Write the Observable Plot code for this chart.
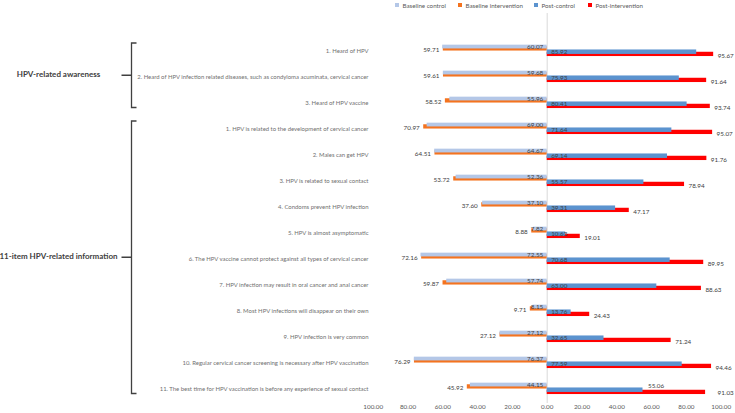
<!DOCTYPE html>
<html><head><meta charset="utf-8">
<script src="https://cdn.jsdelivr.net/npm/d3@7"></script>
<script src="https://cdn.jsdelivr.net/npm/@observablehq/plot@0.6"></script>
<style>
body{margin:0;background:#fff;font-family:Lato,"Liberation Sans",sans-serif;}
#legend{height:13px;position:relative;width:735px;font-size:6.2px;color:#595959;}
.item{position:absolute;top:1px;height:8px;display:flex;align-items:center;white-space:nowrap}
.sw{width:3.5px;height:3.5px;margin-right:4px;display:inline-block}
</style></head><body>
<div id="legend"></div>
<div id="chart"></div>
<script>
const items = [
  "1. Heard of HPV",
  "2. Heard of HPV infection related diseases, such as condyloma acuminata, cervical cancer",
  "3. Heard of HPV vaccine",
  "1. HPV is related to the development of cervical cancer",
  "2. Males can get HPV",
  "3. HPV is related to sexual contact",
  "4. Condoms prevent HPV infection",
  "5. HPV is almost asymptomatic",
  "6. The HPV vaccine cannot protect against all types of cervical cancer",
  "7. HPV infection may result in oral cancer and anal cancer",
  "8. Most HPV infections will disappear on their own",
  "9. HPV infection is very common",
  "10. Regular cervical cancer screening is necessary after HPV vaccination",
  "11. The best time for HPV vaccination is before any experience of sexual contact"
];
const groupNames = ["HPV-related awareness", "11-item HPV-related information"];
const groupFirst = [0, 3];
const groupLast = [2, 13];
const seriesNames = ["Baseline control", "Baseline intervention", "Post-control", "Post-intervention"];
const baselineControl = [60.07,59.68,55.96,69.00,64.67,52.36,37.10,7.82,72.55,57.74,8.15,27.12,76.37,44.15];
const baselineIntervention = [59.71,59.61,58.52,70.97,64.51,53.72,37.60,8.88,72.16,59.87,9.71,27.12,76.29,45.92];
const postControl = [85.92,75.93,80.41,71.64,69.14,55.57,39.31,10.63,70.68,63.00,13.76,32.65,77.59,55.06];
const postIntervention = [95.67,91.64,93.74,95.07,91.76,78.94,47.17,19.01,89.95,88.63,24.43,71.24,94.46,91.03];
const xTicks = [-100,-80,-60,-40,-20,0,20,40,60,80,100];

const colors = ["#b4c7e7", "#f4731f", "#5b93cf", "#ff0000"];

// legend
const legendLeft = [395, 458, 534, 588];
const legend = document.getElementById("legend");
seriesNames.forEach((n, i) => {
  const d = document.createElement("div");
  d.className = "item";
  d.style.left = legendLeft[i] + "px";
  d.innerHTML = `<span class="sw" style="background:${colors[i]}"></span>${n}`;
  legend.appendChild(d);
});

const rows = items.map((item, i) => ({
  item, i,
  bc: baselineControl[i], bi: baselineIntervention[i],
  pc: postControl[i], pi: postIntervention[i]
}));
const lastIdx = items.length - 1;

const yRange = [21, 392.3];
const bw = (yRange[1] - yRange[0]) / items.length;
const h = bw / 2;
const fmt = v => v.toFixed(2);
const lab = {fontSize: 6.3, fill: "#404040"};

const plot = Plot.plot({
  width: 735,
  height: 400,
  marginTop: 0,
  marginBottom: 10,
  marginLeft: 372.7,
  marginRight: 14.3,
  style: {fontFamily: "Lato, 'Liberation Sans', sans-serif", background: "#fff"},
  x: {domain: [-100, 100], label: null},
  y: {domain: items, range: yRange, padding: 0, label: null},
  marks: [
    Plot.ruleX([0], {stroke: "#d9d9d9", strokeWidth: 1}),
    Plot.barX(rows, {y: "item", x1: 0, x2: d => -d.bi, fill: colors[1], insetTop: h - 5, insetBottom: h + 0.2}),
    Plot.barX(rows, {y: "item", x1: 0, x2: d => -d.bc, fill: colors[0], insetTop: h - 6.6, insetBottom: h + 2.3}),
    Plot.barX(rows, {y: "item", x1: 0, x2: d => d.pi, fill: colors[3], insetTop: h + 0.5, insetBottom: h - 5.3}),
    Plot.barX(rows, {y: "item", x1: 0, x2: d => d.pc, fill: colors[2], insetTop: h - 1.8, insetBottom: h - 3.2}),
    Plot.text(rows, {y: "item", x: d => -d.bi, text: d => fmt(d.bi), textAnchor: "end", dx: -4, dy: -1.5, ...lab}),
    Plot.text(rows, {y: "item", x: 0, text: d => fmt(d.bc), textAnchor: "end", dx: -4, dy: -4.5, ...lab}),
    Plot.text(rows.filter(d => d.i !== lastIdx), {y: "item", x: 0, text: d => fmt(d.pc), textAnchor: "start", dx: 4, dy: 0.8, ...lab}),
    Plot.text(rows.filter(d => d.i === lastIdx), {y: "item", x: d => d.pc, text: d => fmt(d.pc), textAnchor: "start", dx: 5, dy: -4, ...lab}),
    Plot.text(rows.filter(d => d.i !== lastIdx), {y: "item", x: d => d.pi, text: d => fmt(d.pi), textAnchor: "start", dx: 4, dy: 4.5, ...lab}),
    Plot.text(rows.filter(d => d.i === lastIdx), {y: "item", x: d => d.pi, text: d => fmt(d.pi), textAnchor: "start", dx: 12, dy: 3, ...lab}),
    Plot.axisX({ticks: xTicks, tickFormat: d => Math.abs(d).toFixed(2), tickSize: 0, tickPadding: 1.5, fontSize: 6.3, color: "#595959", label: null}),
    Plot.axisY({tickSize: 0, tickPadding: 4.7, fontSize: 5.95, color: "#6f6f6f", label: null})
  ]
});
document.getElementById("chart").appendChild(plot);

// group brackets drawn with the plot's y scale
const ys = plot.scale("y");
const center = k => ys.apply(items[k]) + ys.bandwidth / 2;
const svg = d3.select(plot);
const g = svg.append("g").attr("fill", "none").attr("stroke", "#404040").attr("stroke-width", 1.3);
const bx = 131.5;
groupNames.forEach((name, j) => {
  const top = center(groupFirst[j]) - 8;
  const bot = center(groupLast[j]) + 4.5;
  const mid = (top + bot) / 2;
  g.append("path").attr("d", `M${bx + 5},${top}H${bx}V${bot}H${bx + 5}M${bx},${mid}H${bx - 10}`);
  svg.append("text").attr("x", 58.5).attr("y", mid).attr("text-anchor", "middle")
    .attr("dominant-baseline", "middle").attr("font-weight", "bold").attr("font-size", 8)
    .attr("fill", "#404040").attr("font-family", "Lato, 'Liberation Sans', sans-serif").text(name);
});
</script>
</body></html>
